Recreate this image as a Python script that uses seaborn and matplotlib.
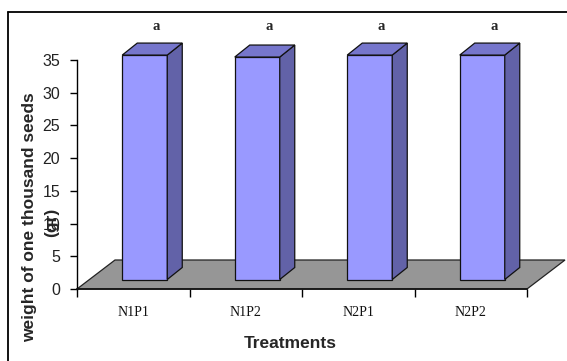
import numpy as np
import pandas as pd
import seaborn as sns
import matplotlib
matplotlib.use("Agg")
import matplotlib.pyplot as plt
from matplotlib.patches import Polygon
from matplotlib.lines import Line2D
from matplotlib.transforms import offset_copy

# Data
treatments = ["N1P1", "N1P2", "N2P1", "N2P2"]
seed_weight = [34.3, 34.0, 34.3, 34.3]
letters = ["a", "a", "a", "a"]
y_ticks = [0, 5, 10, 15, 20, 25, 30, 35]

sns.set_theme(style="white")
plt.rcParams["font.family"] = ["Liberation Sans", "DejaVu Sans"]

W, H = 567, 361
fig = plt.figure(figsize=(W / 100, H / 100), dpi=100)
ax = fig.add_axes([77 / W, 72 / H, 450 / W, 229 / H])

df = pd.DataFrame({"Treatment": treatments, "Weight": seed_weight})
sns.barplot(data=df, x="Treatment", y="Weight", color="#9999FF", saturation=1,
            width=0.4, edgecolor="#111111", linewidth=0.9, ax=ax, zorder=3)
bars = list(ax.patches)

ax.set_xlim(-0.5, 3.5)
ax.set_ylim(0, 35)

# pixel -> data scale for the oblique depth offsets
p0 = ax.transData.transform((0, 0))
p1 = ax.transData.transform((1, 1))
sx, sy = p1 - p0

floor_dx, floor_dy = 38, 29      # full floor depth (px)
front_dx, front_dy = 11.5, 9.5   # depth of bar front faces (px)
bar_dx, bar_dy = 15, 12          # bar depth (px)

# floor
fl = Polygon([(-0.5, 0), (3.5, 0), (3.5 + floor_dx / sx, floor_dy / sy),
              (-0.5 + floor_dx / sx, floor_dy / sy)],
             closed=True, facecolor="#969696", edgecolor="#222222",
             linewidth=0.9, zorder=1, clip_on=False)
ax.add_patch(fl)

fx, fy = front_dx / sx, front_dy / sy
bx, by = bar_dx / sx, bar_dy / sy
for p, letter in zip(bars, letters):
    x0, w, h = p.get_x(), p.get_width(), p.get_height()
    p.set_transform(offset_copy(ax.transData, fig=fig, x=front_dx, y=front_dy, units="dots"))
    p.set_clip_on(False)
    top = Polygon([(x0 + fx, h + fy), (x0 + fx + w, h + fy),
                   (x0 + fx + w + bx, h + fy + by), (x0 + fx + bx, h + fy + by)],
                  closed=True, facecolor="#7676CC", edgecolor="#111111",
                  linewidth=0.9, zorder=3, clip_on=False)
    side = Polygon([(x0 + fx + w, fy), (x0 + fx + w + bx, fy + by),
                    (x0 + fx + w + bx, h + fy + by), (x0 + fx + w, h + fy)],
                   closed=True, facecolor="#6262A8", edgecolor="#111111",
                   linewidth=0.9, zorder=3, clip_on=False)
    ax.add_patch(side)
    ax.add_patch(top)
    ax.text(x0 + fx + w / 2 + bx / 2 + 4 / sx, 35 + 33 / sy, letter,
            ha="center", va="center", fontsize=10.5, fontweight="bold",
            family=["Liberation Serif", "DejaVu Serif"], clip_on=False)

# axes styling
for side_name in ["top", "right"]:
    ax.spines[side_name].set_visible(False)
ax.spines["left"].set_color("black")
ax.spines["left"].set_linewidth(1.0)
ax.spines["bottom"].set_color("#111111")
ax.spines["bottom"].set_linewidth(1.2)

ax.set_yticks(y_ticks)
ax.set_yticklabels([str(v) for v in y_ticks])
ax.tick_params(axis="y", left=True, direction="out", length=5, width=1,
               color="black", pad=7, labelsize=11.5, labelcolor="#222222")

ax.set_xticks([-0.5, 0.5, 1.5, 2.5, 3.5])
ax.set_xticklabels([""] * 5)
ax.set_xticks(range(len(treatments)), minor=True)
ax.set_xticklabels(treatments, minor=True, fontsize=10,
                   family=["Liberation Serif", "DejaVu Serif"])
ax.tick_params(axis="x", which="major", bottom=True, direction="out",
               length=6, width=1, color="black")
ax.tick_params(axis="x", which="minor", bottom=True, length=0, pad=12,
               labelcolor="#111111")
ax.set_xlabel("")
ax.set_ylabel("")

fig.text(30 / W, 1 - 217 / H, "weight of one thousand seeds", rotation=90,
         ha="center", va="center", fontsize=12.5, fontweight="bold")
fig.text(52 / W, 1 - 222 / H, "(gr)", rotation=90,
         ha="center", va="center", fontsize=12.5, fontweight="bold")
fig.text(290 / W, 1 - 343 / H, "Treatments", ha="center", va="center",
         fontsize=12.5, fontweight="bold")

# outer frame
fig.add_artist(Line2D([8 / W, 8 / W], [0, 1 - 12 / H], transform=fig.transFigure,
                      color="black", linewidth=1.3))
fig.add_artist(Line2D([8 / W, 1], [1 - 12 / H, 1 - 12 / H], transform=fig.transFigure,
                      color="black", linewidth=1.3))

fig.savefig("out.png", dpi=100)
